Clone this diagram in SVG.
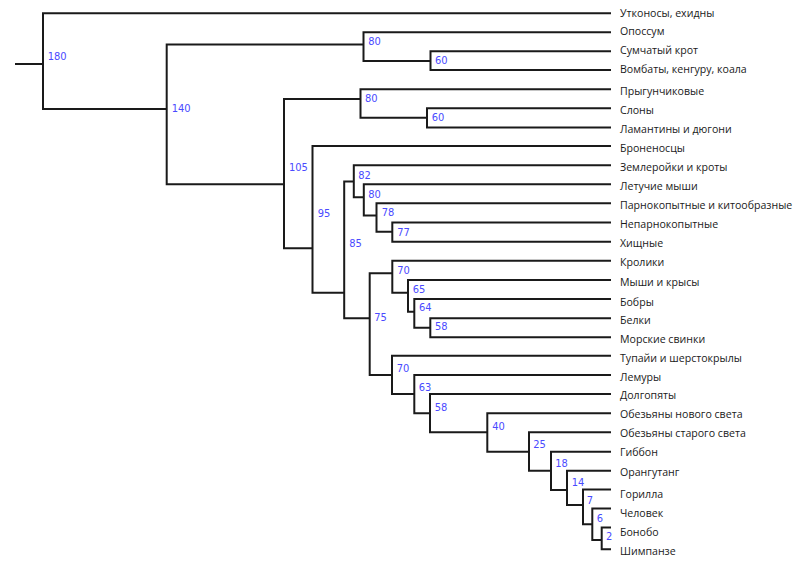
<svg xmlns="http://www.w3.org/2000/svg" width="800" height="566" viewBox="0 0 800 566">
<style>
.e{fill:none;stroke:#1a1a1a;stroke-width:2;stroke-linejoin:miter;stroke-linecap:butt}
.n{font-family:"DejaVu Sans Condensed","DejaVu Sans",sans-serif;font-size:11px;fill:#4a4aff}
.l{font-family:"Open Sans","Noto Sans",sans-serif;font-size:10.6px;fill:#1a1a1a}
</style>
<rect width="800" height="566" fill="#fff"/>
<g id="connectors">
<path class="e" d="M15 64 H43"/>
<path class="e" d="M611 13.3 H43 V109 H166.7"/>
<path class="e" d="M363.5 44.5 H166.7 V184.3 H284"/>
<path class="e" d="M611 32.3 H363.5 V61 H430.5"/>
<path class="e" d="M611 51.3 H430.5 V70 H611"/>
<path class="e" d="M360.5 99 H284 V248.3 H312.5"/>
<path class="e" d="M611 89.3 H360.5 V117.7 H427"/>
<path class="e" d="M611 108.3 H427 V127.5 H611"/>
<path class="e" d="M611 146 H312.5 V292.7 H344.2"/>
<path class="e" d="M353.8 181.5 H344.2 V318.3 H369.7"/>
<path class="e" d="M611 165.3 H353.8 V197.3 H363.8"/>
<path class="e" d="M611 184.3 H363.8 V215.5 H376.5"/>
<path class="e" d="M611 203.3 H376.5 V231.7 H392.3"/>
<path class="e" d="M611 222.5 H392.3 V241.7 H611"/>
<path class="e" d="M392.3 273.3 H369.7 V375 H392"/>
<path class="e" d="M611 260.7 H392.3 V292.7 H408"/>
<path class="e" d="M611 280 H408 V311.7 H414.3"/>
<path class="e" d="M611 299 H414.3 V327.7 H430.3"/>
<path class="e" d="M611 318.3 H430.3 V337.3 H611"/>
<path class="e" d="M611 355.7 H392 V394 H414.3"/>
<path class="e" d="M611 375 H414.3 V413.3 H430"/>
<path class="e" d="M611 394 H430 V432.3 H487.3"/>
<path class="e" d="M611 413.3 H487.3 V451.7 H529"/>
<path class="e" d="M611 432.3 H529 V470.7 H551"/>
<path class="e" d="M611 451.7 H551 V490 H567"/>
<path class="e" d="M611 470.7 H567 V505 H583"/>
<path class="e" d="M611 489.5 H583 V524.2 H592.3"/>
<path class="e" d="M611 508.5 H592.3 V540 H601.7"/>
<path class="e" d="M611 527.5 H601.7 V549.3 H611"/>
</g>
<g id="internal-nodes">
<g id="n180"><text class="n" x="47.7" y="60">180</text></g>
<g id="n140"><text class="n" x="171.7" y="112">140</text></g>
<g id="n80m"><text class="n" x="368.3" y="45">80</text></g>
<g id="n60m"><text class="n" x="435" y="64">60</text></g>
<g id="n80a"><text class="n" x="365" y="102">80</text></g>
<g id="n60a"><text class="n" x="431.7" y="121.3">60</text></g>
<g id="n105"><text class="n" x="289" y="171.3">105</text></g>
<g id="n95"><text class="n" x="317.7" y="217.3">95</text></g>
<g id="n82"><text class="n" x="358.3" y="178.5">82</text></g>
<g id="n80l"><text class="n" x="368.3" y="197.5">80</text></g>
<g id="n78"><text class="n" x="381.7" y="216.3">78</text></g>
<g id="n77"><text class="n" x="397.3" y="235.7">77</text></g>
<g id="n85"><text class="n" x="349.3" y="247">85</text></g>
<g id="n75"><text class="n" x="374.3" y="321.3">75</text></g>
<g id="n70g"><text class="n" x="397.3" y="274">70</text></g>
<g id="n65"><text class="n" x="412.7" y="293">65</text></g>
<g id="n64"><text class="n" x="419" y="311.3">64</text></g>
<g id="n58g"><text class="n" x="435" y="330">58</text></g>
<g id="n70e"><text class="n" x="396.7" y="372.3">70</text></g>
<g id="n63"><text class="n" x="418.7" y="391.3">63</text></g>
<g id="n58p"><text class="n" x="434.7" y="410.7">58</text></g>
<g id="n40"><text class="n" x="492.3" y="429.7">40</text></g>
<g id="n25"><text class="n" x="533.3" y="448.3">25</text></g>
<g id="n18"><text class="n" x="555.3" y="467.3">18</text></g>
<g id="n14"><text class="n" x="571.7" y="485.7">14</text></g>
<g id="n7"><text class="n" x="586.7" y="504">7</text></g>
<g id="n6"><text class="n" x="596.7" y="521.7">6</text></g>
<g id="n2"><text class="n" x="606" y="539.7">2</text></g>
</g>
<g id="leaves">
<g id="leaf0"><text class="l" x="620" y="16.7">Утконосы, ехидны</text></g>
<g id="leaf1"><text class="l" x="620" y="35">Опоссум</text></g>
<g id="leaf2"><text class="l" x="620" y="54">Сумчатый крот</text></g>
<g id="leaf3"><text class="l" x="620" y="73.3">Вомбаты, кенгуру, коала</text></g>
<g id="leaf4"><text class="l" x="620" y="95">Прыгунчиковые</text></g>
<g id="leaf5"><text class="l" x="620" y="114">Слоны</text></g>
<g id="leaf6"><text class="l" x="620" y="133">Ламантины и дюгони</text></g>
<g id="leaf7"><text class="l" x="620" y="151.7">Броненосцы</text></g>
<g id="leaf8"><text class="l" x="620" y="171.3">Землеройки и кроты</text></g>
<g id="leaf9"><text class="l" x="620" y="190">Летучие мыши</text></g>
<g id="leaf10"><text class="l" x="620" y="209">Парнокопытные и китообразные</text></g>
<g id="leaf11"><text class="l" x="620" y="228">Непарнокопытные</text></g>
<g id="leaf12"><text class="l" x="620" y="247.3">Хищные</text></g>
<g id="leaf13"><text class="l" x="620" y="266.3">Кролики</text></g>
<g id="leaf14"><text class="l" x="620" y="286.3">Мыши и крысы</text></g>
<g id="leaf15"><text class="l" x="620" y="305.7">Бобры</text></g>
<g id="leaf16"><text class="l" x="620" y="324">Белки</text></g>
<g id="leaf17"><text class="l" x="620" y="343">Морские свинки</text></g>
<g id="leaf18"><text class="l" x="620" y="362">Тупайи и шерстокрылы</text></g>
<g id="leaf19"><text class="l" x="620" y="381">Лемуры</text></g>
<g id="leaf20"><text class="l" x="620" y="399">Долгопяты</text></g>
<g id="leaf21"><text class="l" x="620" y="418">Обезьяны нового света</text></g>
<g id="leaf22"><text class="l" x="620" y="437.3">Обезьяны старого света</text></g>
<g id="leaf23"><text class="l" x="620" y="456.3">Гиббон</text></g>
<g id="leaf24"><text class="l" x="620" y="475.5">Орангутанг</text></g>
<g id="leaf25"><text class="l" x="620" y="498">Горилла</text></g>
<g id="leaf26"><text class="l" x="620" y="517">Человек</text></g>
<g id="leaf27"><text class="l" x="620" y="536">Бонобо</text></g>
<g id="leaf28"><text class="l" x="620" y="555">Шимпанзе</text></g>
</g>
</svg>
